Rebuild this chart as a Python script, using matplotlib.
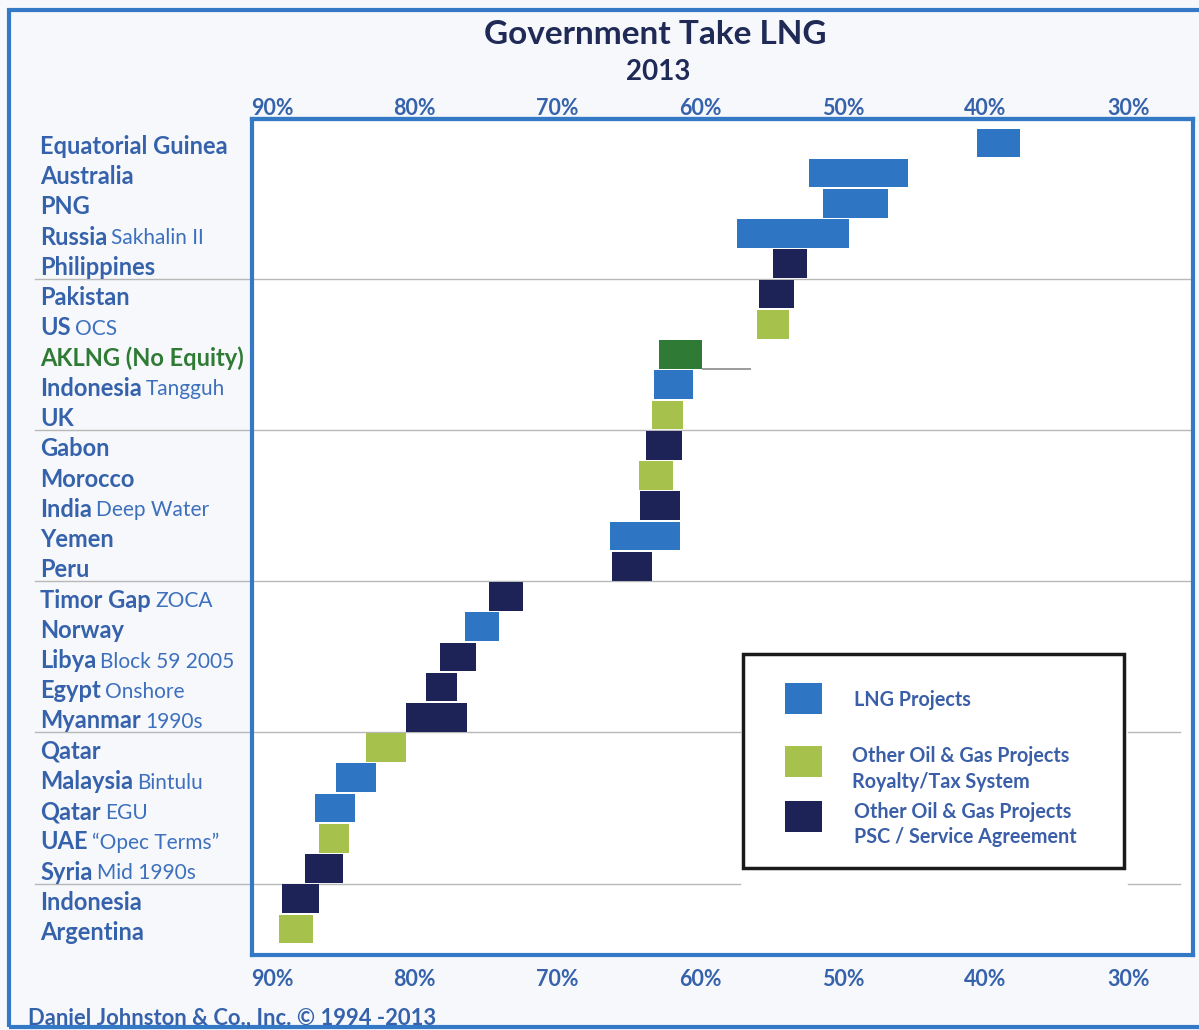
import matplotlib.pyplot as plt
from matplotlib.patches import Rectangle
from matplotlib.transforms import blended_transform_factory

# Government take ranges (%) per country, top to bottom
countries = ["Equatorial Guinea", "Australia", "PNG", "Russia", "Philippines",
             "Pakistan", "US", "AKLNG (No Equity)", "Indonesia", "UK",
             "Gabon", "Morocco", "India", "Yemen", "Peru",
             "Timor Gap", "Norway", "Libya", "Egypt", "Myanmar",
             "Qatar", "Malaysia", "Qatar", "UAE", "Syria",
             "Indonesia", "Argentina"]
notes = ["", "", "", "Sakhalin II", "",
         "", "OCS", "", "Tangguh", "",
         "", "", "Deep Water", "", "",
         "ZOCA", "", "Block 59 2005", "Onshore", "1990s",
         "", "Bintulu", "EGU", "\u201cOpec Terms\u201d", "Mid 1990s",
         "", ""]
low = [37.6, 45.4, 46.8, 49.6, 52.5,
       53.4, 53.8, 59.9, 60.5, 61.2,
       61.3, 61.9, 61.4, 61.4, 63.4,
       72.4, 74.1, 75.7, 77.0, 76.3,
       80.6, 82.7, 84.2, 84.6, 85.0,
       86.7, 87.1]
high = [40.6, 52.4, 51.4, 57.4, 54.9,
        55.9, 56.0, 62.9, 63.2, 63.4,
        63.8, 64.3, 64.2, 66.3, 66.2,
        74.8, 76.5, 78.2, 79.2, 80.6,
        83.4, 85.5, 87.0, 86.7, 87.7,
        89.3, 89.5]
kinds = ["LNG", "LNG", "LNG", "LNG", "PSC",
         "PSC", "RT", "AK", "LNG", "RT",
         "PSC", "RT", "PSC", "LNG", "PSC",
         "PSC", "LNG", "PSC", "PSC", "PSC",
         "RT", "LNG", "LNG", "RT", "PSC",
         "PSC", "RT"]
ticks = [90, 80, 70, 60, 50, 40, 30]
separators = [4.5, 9.5, 14.5, 19.5, 24.5]
aklng_line = [56.4, 59.9]

colors = {"LNG": "#2e75c4", "RT": "#a6c24c", "PSC": "#1d2356", "AK": "#2f7a35"}
frame_blue = "#3479c5"
text_blue = "#3562ab"
note_blue = "#3d70bd"
navy = "#1f2a56"

plt.rcParams['font.family'] = ['Lato', 'DejaVu Sans']

W, H = 1199, 1030
def fx(px):
    return px / W
def fy(py):
    return 1 - py / H

fig = plt.figure(figsize=(W / 100, H / 100), dpi=100, facecolor="#f6f8fb")
ax = fig.add_axes([fx(252), fy(955), fx(1193) - fx(252), fy(119) - fy(955)])
ax.set_facecolor("white")

rows = list(range(len(countries)))
widths = [h - l for l, h in zip(low, high)]
ax.barh(rows, widths, left=low, height=0.95,
        color=[colors[k] for k in kinds], zorder=3)
# thin line off the AKLNG bar
ax.hlines(7.47, aklng_line[0], aklng_line[1], color="#8a8a8a", lw=1.2, zorder=2)

ax.set_xlim(91.4, 25.46)
ax.set_ylim(26.86, -0.79)
ax.set_yticks([])
tick_labels = [f"{t}%" for t in ticks]
ax.set_xticks(ticks, tick_labels)
ax.tick_params(axis="x", length=0, pad=10, labelsize=15.5, labelcolor=text_blue)
top = ax.secondary_xaxis("top")
top.set_xticks(ticks, tick_labels)
top.tick_params(axis="x", length=0, pad=0, labelsize=15.5, labelcolor=text_blue)
for lab in ax.get_xticklabels() + top.get_xticklabels():
    lab.set_fontweight("bold")

for s in list(ax.spines.values()) + list(top.spines.values()):
    s.set_color(frame_blue)
    s.set_linewidth(3)

# separator lines across labels and plot
mix = blended_transform_factory(fig.transFigure, ax.transData)
for y in separators:
    if y > 15:
        segs = [(35, 740), (1128, 1180)]
    else:
        segs = [(35, 1191)]
    for a, b in segs:
        ax.plot([fx(a), fx(b)], [y, y], transform=mix, color="#b8b8b8",
                lw=1, clip_on=False, zorder=1)

# row labels: bold name, regular note
for r, name, note in zip(rows, countries, notes):
    c = colors["AK"] if name.startswith("AKLNG") else text_blue
    t = ax.text(fx(40), r + 0.12, name, transform=mix, fontsize=17,
                fontweight="bold", color=c, va="center", ha="left")
    if note:
        ax.annotate(note, xy=(1, 0), xycoords=t, xytext=(3, 0.3),
                    textcoords="offset points", va="bottom", ha="left",
                    fontsize=15, color=note_blue)

# titles and footer
fig.text(fx(655), fy(35), "Government Take LNG", fontsize=24, fontweight="bold",
         color=navy, ha="center", va="center")
fig.text(fx(658), fy(72), "2013", fontsize=20, fontweight="bold",
         color=navy, ha="center", va="center")
fig.text(fx(28), fy(1018), "Daniel Johnston & Co., Inc. \u00a9 1994 -2013",
         fontsize=15.8, fontweight="bold", color=text_blue, ha="left", va="center")

# outer frame
fig.add_artist(Rectangle((fx(9), fy(1027)), fx(1230) - fx(9), fy(10) - fy(1027),
                         transform=fig.transFigure, fill=False, ec=frame_blue,
                         lw=3, clip_on=False))

# legend box
fig.add_artist(Rectangle((fx(743), fy(868)), fx(1124) - fx(743), fy(654) - fy(868),
                         transform=fig.transFigure, fc="white", ec="#1a1a1a",
                         lw=2.5, zorder=5))
legend_items = [("LNG", 698), ("RT", 761), ("PSC", 816)]
for k, yc in legend_items:
    fig.add_artist(Rectangle((fx(785), fy(yc + 16)), fx(822) - fx(785), fy(0) - fy(31),
                             transform=fig.transFigure, fc=colors[k], ec="none",
                             zorder=6))
for txt, xs, yc in [("LNG Projects", 854, 700), ("Other Oil & Gas Projects", 852, 756),
                    ("Royalty/Tax System", 852, 782), ("Other Oil & Gas Projects", 854, 812),
                    ("PSC / Service Agreement", 854, 837)]:
    fig.text(fx(xs), fy(yc), txt, fontsize=14.2, fontweight="bold", color="#3a5fa8",
             ha="left", va="center", zorder=7)

fig.savefig("out.png", dpi=100, facecolor=fig.get_facecolor())
